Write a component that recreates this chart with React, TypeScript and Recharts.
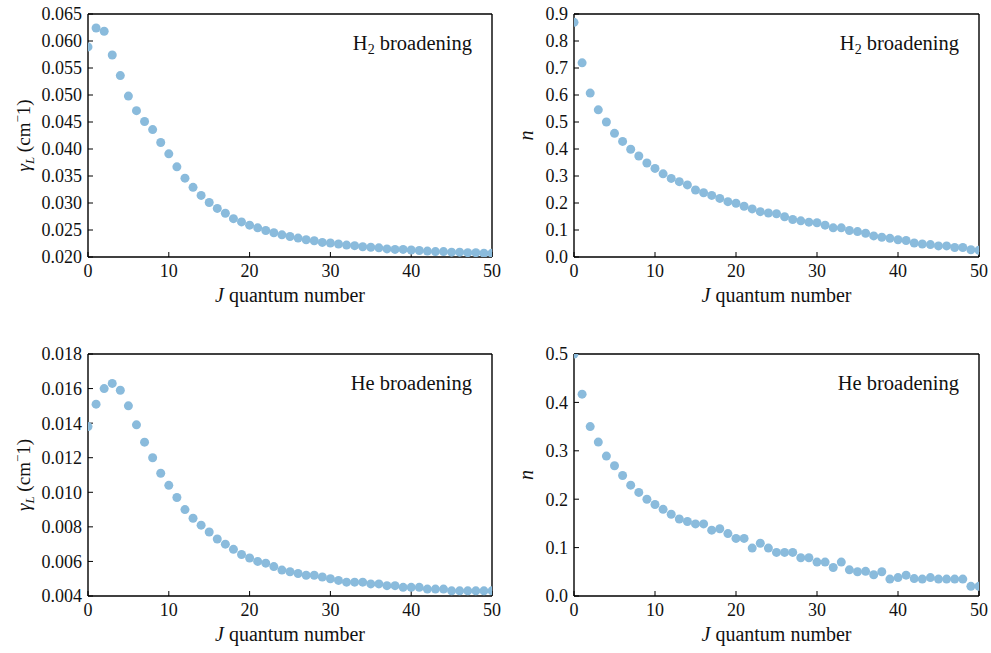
import React from 'react';
import { ScatterChart, Scatter, XAxis, YAxis } from 'recharts';

const J = [0, 1, 2, 3, 4, 5, 6, 7, 8, 9, 10, 11, 12, 13, 14, 15, 16, 17, 18, 19, 20, 21, 22, 23, 24, 25, 26, 27, 28, 29, 30, 31, 32, 33, 34, 35, 36, 37, 38, 39, 40, 41, 42, 43, 44, 45, 46, 47, 48, 49, 50];

const h2Gamma = [0.0589, 0.0624, 0.0618, 0.0574, 0.0536, 0.0498, 0.0471, 0.0451, 0.0436, 0.0412, 0.0391, 0.0367, 0.0346, 0.0329, 0.0314, 0.0301, 0.0290, 0.0281, 0.0271, 0.0265, 0.0259, 0.0254, 0.0249, 0.0245, 0.0241, 0.0238, 0.0235, 0.0232, 0.0230, 0.0227, 0.0226, 0.0224, 0.0222, 0.0221, 0.0219, 0.0218, 0.0217, 0.0215, 0.0214, 0.0214, 0.0213, 0.0212, 0.0211, 0.0210, 0.0210, 0.0209, 0.0209, 0.0208, 0.0208, 0.0207, 0.0207];

const h2N = [0.869, 0.719, 0.607, 0.545, 0.500, 0.458, 0.428, 0.399, 0.374, 0.348, 0.328, 0.308, 0.291, 0.279, 0.267, 0.248, 0.238, 0.228, 0.217, 0.205, 0.199, 0.188, 0.178, 0.168, 0.163, 0.160, 0.149, 0.139, 0.134, 0.129, 0.127, 0.118, 0.108, 0.108, 0.098, 0.094, 0.088, 0.078, 0.073, 0.069, 0.064, 0.061, 0.052, 0.048, 0.046, 0.041, 0.041, 0.035, 0.035, 0.027, 0.025];

const heGamma = [0.0138, 0.0151, 0.0160, 0.0163, 0.0159, 0.0150, 0.0139, 0.0129, 0.0120, 0.0111, 0.0104, 0.0097, 0.0090, 0.0085, 0.0081, 0.0077, 0.0073, 0.0070, 0.0067, 0.0064, 0.0062, 0.0060, 0.0059, 0.0057, 0.0055, 0.0054, 0.0053, 0.0052, 0.0052, 0.0051, 0.0050, 0.0049, 0.0048, 0.0048, 0.0048, 0.0047, 0.0047, 0.0046, 0.0046, 0.0045, 0.0045, 0.0045, 0.0044, 0.0044, 0.0044, 0.0043, 0.0043, 0.0043, 0.0043, 0.0043, 0.0043];

const heN = [0.50, 0.417, 0.350, 0.318, 0.289, 0.269, 0.249, 0.229, 0.214, 0.200, 0.189, 0.179, 0.169, 0.159, 0.154, 0.149, 0.149, 0.136, 0.139, 0.129, 0.119, 0.119, 0.099, 0.109, 0.099, 0.090, 0.090, 0.090, 0.079, 0.079, 0.070, 0.070, 0.059, 0.070, 0.054, 0.050, 0.051, 0.044, 0.050, 0.035, 0.038, 0.043, 0.036, 0.035, 0.038, 0.035, 0.035, 0.035, 0.035, 0.020, 0.020];

const xTicks = [0, 10, 20, 30, 40, 50];
const h2GammaTicks = [0.02, 0.025, 0.03, 0.035, 0.04, 0.045, 0.05, 0.055, 0.06, 0.065];
const h2NTicks = [0, 0.1, 0.2, 0.3, 0.4, 0.5, 0.6, 0.7, 0.8, 0.9];
const heGammaTicks = [0.004, 0.006, 0.008, 0.01, 0.012, 0.014, 0.016, 0.018];
const heNTicks = [0, 0.1, 0.2, 0.3, 0.4, 0.5];

const FONT = '"Liberation Serif", "DejaVu Serif", serif';
const COLOR = '#8abbdc';
const TICK = -5;

const toRows = (ys: number[]) => J.map((j, i) => ({ j, v: ys[i] }));

const GammaLabel = ({ x, y }: { x: number; y: number }) => (
  <text x={x} y={y} transform={`rotate(-90, ${x}, ${y})`} textAnchor="middle" fontFamily={FONT} fontSize={19} fill="#111">
    <tspan fontStyle="italic">γ</tspan>
    <tspan fontStyle="italic" fontSize={13} dy={4}>L</tspan>
    <tspan dy={-4}> (cm</tspan>
    <tspan fontSize={13} dy={-8}>−</tspan>
    <tspan dy={8}>1)</tspan>
  </text>
);

const NLabel = ({ x, y }: { x: number; y: number }) => (
  <text x={x} y={y} transform={`rotate(-90, ${x}, ${y})`} textAnchor="middle" fontFamily={FONT} fontSize={20} fill="#111" fontStyle="italic">
    n
  </text>
);

const Annot = ({ x, y, kind }: { x: number; y: number; kind: 'H2' | 'He' }) => (
  <text x={x} y={y} textAnchor="end" fontFamily={FONT} fontSize={20.5} fill="#111">
    {kind === 'H2' ? (
      <>
        <tspan>H</tspan>
        <tspan fontSize={14} dy={4}>2</tspan>
        <tspan dy={-4}> broadening</tspan>
      </>
    ) : (
      <tspan>He broadening</tspan>
    )}
  </text>
);

type PanelProps = {
  left: number;
  top: number;
  plotW: number;
  plotH: number;
  ys: number[];
  domain: [number, number];
  ticks: number[];
  digits: number;
  ylabel: 'gamma' | 'n';
  kind: 'H2' | 'He';
};

const Panel = ({ left, top, plotW, plotH, ys, domain, ticks, digits, ylabel, kind }: PanelProps) => {
  const yAxisW = 88;
  const width = yAxisW + plotW + 10;
  const height = 14 + plotH + 60;
  const plotTop = 14;
  const plotBottom = 14 + plotH;
  const plotRight = yAxisW + plotW;
  const tickStyle = { fontFamily: FONT, fontSize: 18, fill: '#111' };
  const data = toRows(ys);
  return (
    <div style={{ position: 'absolute', left, top, width, height }}>
      <ScatterChart width={width} height={height} margin={{ top: 13, right: 9, left: 0, bottom: 10 }}>
        <XAxis
          xAxisId="b"
          dataKey="j"
          type="number"
          domain={[0, 50]}
          ticks={xTicks}
          allowDataOverflow
          orientation="bottom"
          height={50}
          tickSize={TICK}
          tickMargin={12}
          tick={tickStyle}
          axisLine={{ stroke: '#000', strokeWidth: 1.4 }}
          tickLine={{ stroke: '#000' }}
          label={{
            content: () => (
              <text x={(yAxisW + plotRight) / 2} y={plotBottom + 45} textAnchor="middle" fontFamily={FONT} fontSize={20} fill="#111">
                <tspan fontStyle="italic">J</tspan>
                <tspan> quantum number</tspan>
              </text>
            ),
          }}
        />
        <XAxis
          xAxisId="t"
          dataKey="j"
          type="number"
          domain={[0, 50]}
          ticks={xTicks}
          allowDataOverflow
          orientation="top"
          height={1}
          tickSize={TICK}
          tick={false}
          axisLine={{ stroke: '#000', strokeWidth: 1.4 }}
          tickLine={{ stroke: '#000' }}
          label={{ content: () => <Annot x={plotRight - 20} y={plotTop + 36} kind={kind} /> }}
        />
        <YAxis
          yAxisId="l"
          dataKey="v"
          type="number"
          domain={domain}
          ticks={ticks}
          allowDataOverflow
          orientation="left"
          width={yAxisW}
          tickSize={TICK}
          tickMargin={11}
          tick={tickStyle}
          tickFormatter={(v: number) => v.toFixed(digits)}
          axisLine={{ stroke: '#000', strokeWidth: 1.4 }}
          tickLine={{ stroke: '#000' }}
          label={{
            content: () =>
              ylabel === 'gamma' ? (
                <GammaLabel x={30} y={(plotTop + plotBottom) / 2} />
              ) : (
                <NLabel x={47} y={(plotTop + plotBottom) / 2} />
              ),
          }}
        />
        <YAxis
          yAxisId="r"
          dataKey="v"
          type="number"
          domain={domain}
          ticks={ticks}
          allowDataOverflow
          orientation="right"
          width={1}
          tickSize={TICK}
          tick={false}
          axisLine={{ stroke: '#000', strokeWidth: 1.4 }}
          tickLine={{ stroke: '#000' }}
        />
        <Scatter
          xAxisId="b"
          yAxisId="l"
          data={data}
          fill={COLOR}
          isAnimationActive={false}
          shape={(p: any) => <circle cx={p.cx} cy={p.cy} r={4.5} fill={COLOR} />}
        />
        <Scatter
          xAxisId="t"
          yAxisId="r"
          data={data}
          fill="none"
          isAnimationActive={false}
          shape={() => <g />}
        />
      </ScatterChart>
    </div>
  );
};

export default function App() {
  return (
    <div style={{ position: 'absolute', left: 0, top: 0, width: 991, height: 653, background: '#fff' }}>
      <Panel left={0} top={0} plotW={404} plotH={243} ys={h2Gamma} domain={[0.02, 0.065]} ticks={h2GammaTicks} digits={3} ylabel="gamma" kind="H2" />
      <Panel left={486} top={0} plotW={405} plotH={243} ys={h2N} domain={[0, 0.9]} ticks={h2NTicks} digits={1} ylabel="n" kind="H2" />
      <Panel left={0} top={340} plotW={404} plotH={242} ys={heGamma} domain={[0.004, 0.018]} ticks={heGammaTicks} digits={3} ylabel="gamma" kind="He" />
      <Panel left={486} top={340} plotW={405} plotH={242} ys={heN} domain={[0, 0.5]} ticks={heNTicks} digits={1} ylabel="n" kind="He" />
    </div>
  );
}
